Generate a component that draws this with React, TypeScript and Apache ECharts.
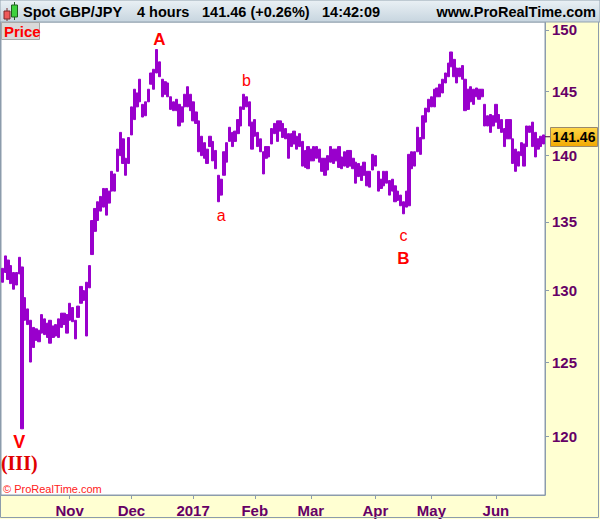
import React, { useEffect, useRef } from "react";
import * as echarts from "echarts";

// ---- data (daily ranges) ----
const startDate = "2016-09-28";
const endDate = "2017-06-26";

const dayHigh = [
  131.6, 132.5, 132.2, 131.8, 131.3, 131.3, 132.4, 131.7, 129.5, 128.7,
  127.9, 127.4, 127.3, 127.2, 128.3, 128.0, 127.7, 127.9, 127.5, 127.6,
  128.0, 128.4, 128.4, 128.3, 129.1, 128.8, 127.9, 128.9, 130.3, 130.0,
  130.6, 131.8, 135.1, 136.0, 136.5, 136.9, 137.5, 137.5, 137.3, 138.8,
  138.6, 140.5, 141.8, 141.3, 139.8, 141.4, 143.8, 145.2, 144.9, 146.0,
  144.0, 144.2, 145.2, 146.5, 146.8, 148.4, 147.4, 146.0, 145.8, 145.7,
  144.6, 144.2, 144.4, 144.0, 143.8, 144.8, 145.4, 144.8, 144.2, 143.4,
  142.7, 141.5, 141.0, 140.5, 141.5, 141.1, 140.4, 138.5, 138.2, 140.3,
  141.0, 142.2, 141.8, 141.9, 142.8, 143.8, 144.8, 144.6, 144.2, 142.6,
  142.8, 141.8, 141.3, 140.3, 140.7, 140.7, 142.1, 142.5, 142.7, 142.7,
  142.5, 142.1, 141.7, 141.7, 141.9, 141.5, 141.7, 141.1, 140.4, 140.7,
  140.5, 140.7, 140.7, 140.5, 139.8, 139.8, 140.0, 140.7, 140.5, 140.5,
  140.7, 139.9, 140.3, 140.4, 140.4, 139.8, 139.5, 139.4, 139.2, 139.5,
  138.8, 138.8, 140.1, 140.0, 138.8, 138.2, 138.8, 138.8, 138.1, 138.2,
  137.7, 137.3, 137.0, 136.5, 137.3, 140.1, 140.3, 140.3, 142.2, 141.4,
  143.1, 143.7, 144.4, 144.6, 145.2, 145.3, 145.6, 146.0, 146.5, 147.3,
  148.2, 147.6, 146.9, 146.9, 147.1, 146.0, 145.2, 145.4, 145.2, 145.3,
  145.2, 145.2, 144.0, 143.1, 143.2, 143.1, 144.0, 143.2, 142.8, 142.1,
  142.8, 142.8, 141.3, 140.5, 140.3, 141.0, 140.9, 142.3, 142.3, 142.6,
  141.8, 141.3, 141.5, 141.6,
];

const dayLow = [
  130.6, 131.3, 130.8, 130.5, 130.1, 130.4, 131.2, 120.5, 127.9, 127.6,
  125.0, 126.0, 126.5, 126.4, 127.0, 126.9, 126.7, 126.3, 126.7, 126.8,
  126.7, 127.4, 127.6, 127.0, 127.9, 127.8, 126.6, 128.1, 129.1, 129.3,
  126.8, 130.2, 132.6, 134.3, 135.1, 135.8, 136.1, 135.5, 136.4, 137.3,
  137.3, 138.8, 140.0, 139.4, 138.5, 139.4, 141.6, 142.8, 143.8, 144.2,
  143.0, 143.1, 144.2, 145.6, 145.2, 146.5, 146.2, 144.6, 144.8, 144.6,
  143.6, 143.5, 143.5, 142.3, 142.6, 143.8, 143.8, 143.5, 142.7, 142.5,
  140.3, 140.0, 139.8, 139.4, 140.7, 139.6, 139.0, 136.5, 137.0, 138.5,
  139.5, 141.1, 140.7, 141.1, 141.7, 142.3, 143.6, 143.8, 142.3, 140.5,
  141.5, 140.7, 140.3, 138.6, 139.8, 139.9, 140.9, 141.7, 141.1, 141.9,
  141.4, 141.3, 139.8, 140.7, 140.9, 140.5, 140.7, 139.2, 139.1, 139.0,
  139.6, 139.6, 139.8, 139.5, 138.8, 138.5, 138.9, 139.5, 139.4, 139.6,
  139.1, 139.0, 139.2, 139.1, 139.2, 139.0, 137.9, 138.4, 138.1, 138.5,
  137.7, 137.6, 138.9, 139.2, 137.3, 137.5, 137.7, 137.9, 137.0, 137.3,
  136.5, 136.6, 136.2, 135.6, 136.1, 136.2, 139.0, 139.2, 140.3, 140.1,
  141.3, 142.6, 143.4, 143.8, 143.8, 144.6, 144.6, 144.9, 145.7, 146.2,
  147.0, 146.2, 145.7, 146.2, 146.0, 143.5, 143.6, 144.2, 144.0, 144.6,
  144.4, 144.6, 142.3, 142.3, 141.8, 142.3, 142.6, 142.1, 141.8, 140.7,
  141.3, 141.3, 139.4, 138.8, 139.2, 140.0, 139.2, 140.7, 141.8, 140.7,
  139.9, 140.5, 140.7, 140.9,
];

const priceTicks = [120, 125, 130, 135, 140, 145, 150];
const monthNames = ["2017", "Feb", "Mar", "Apr", "May", "Jun", "Jul", "Aug", "Sep", "Oct", "Nov", "Dec"];
const yMinPrice = 116.2;
const yMaxPrice = 150.66;
const lastPrice = 141.46;

const waveLabels = [
  { text: "A", idx: 56, price: 149.2, bold: true, size: 17, serif: false },
  { text: "b", idx: 87, price: 145.9, bold: false, size: 16, serif: false },
  { text: "a", idx: 78, price: 135.5, bold: false, size: 16, serif: false },
  { text: "c", idx: 143, price: 134.0, bold: false, size: 16, serif: false },
  { text: "B", idx: 143, price: 132.3, bold: true, size: 17, serif: false },
  { text: "V", idx: 6, price: 119.6, bold: true, size: 18, serif: false },
  { text: "(III)", idx: 6, price: 118.25, bold: true, size: 20, serif: true },
];

function tradingDays(start: string, end: string): string[] {
  const out: string[] = [];
  const d = new Date(start + "T00:00:00Z");
  const e = new Date(end + "T00:00:00Z");
  while (d <= e) {
    const wd = d.getUTCDay();
    if (wd !== 0 && wd !== 6) out.push(d.toISOString().slice(0, 10));
    d.setUTCDate(d.getUTCDate() + 1);
  }
  return out;
}

const FONT = "'Liberation Sans', Arial, sans-serif";
const AXIS_COLOR = "#660066";
const FRAME = "#8C9CAC";
const PURPLE = "#9900CC";

export default function App() {
  const ref = useRef<HTMLDivElement>(null);
  useEffect(() => {
    document.body.style.margin = "0";
    if (!ref.current) return;
    const chart = echarts.init(ref.current, undefined, { renderer: "svg" });
    const cats = tradingDays(startDate, endDate);
    // month boundaries; the first (October) one sits at the edge and is not labelled
    const isMonthStart = (i: number) =>
      i > 10 && !!cats[i] && !!cats[i - 1] && cats[i].slice(5, 7) !== cats[i - 1].slice(5, 7);

    const candles = dayHigh.map((h, i) => {
      const lo = Math.log(dayLow[i]);
      const hi = Math.log(h);
      return [lo, hi, lo, hi];
    });

    const option: any = {
      animation: false,
      backgroundColor: "#FFFFD2",
      grid: {
        left: 1,
        right: 55,
        top: 22,
        bottom: 24,
        show: true,
        backgroundColor: "#FFFFFF",
        borderColor: FRAME,
        borderWidth: 1,
        containLabel: false,
        outerBoundsMode: "none",
      },
      xAxis: {
        type: "category",
        data: cats,
        boundaryGap: true,
        axisLine: { show: true, lineStyle: { color: FRAME } },
        axisTick: {
          show: true,
          alignWithLabel: true,
          length: 4,
          lineStyle: { color: FRAME },
          interval: (i: number) => isMonthStart(i),
        },
        axisLabel: {
          interval: (i: number) => isMonthStart(i),
          formatter: (v: string) => monthNames[parseInt(v.slice(5, 7), 10) - 1],
          color: AXIS_COLOR,
          fontWeight: "bold",
          fontSize: 15,
          fontFamily: FONT,
          margin: 8,
        },
        splitLine: { show: false },
      },
      yAxis: {
        type: "value",
        position: "right",
        min: Math.log(yMinPrice),
        max: Math.log(yMaxPrice),
        axisLine: { show: true, lineStyle: { color: FRAME } },
        axisTick: {
          show: true,
          length: 4,
          lineStyle: { color: FRAME },
          customValues: priceTicks.map((p) => Math.log(p)),
        },
        axisLabel: {
          customValues: priceTicks.map((p) => Math.log(p)),
          formatter: (v: number) => String(Math.round(Math.exp(v))),
          color: AXIS_COLOR,
          fontWeight: "bold",
          fontSize: 15,
          fontFamily: FONT,
          margin: 7,
        },
        splitLine: { show: false },
      },
      series: [
        {
          type: "candlestick",
          data: candles,
          barWidth: "100%",
          itemStyle: {
            color: PURPLE,
            color0: PURPLE,
            borderColor: PURPLE,
            borderColor0: PURPLE,
            borderWidth: 1,
          },
          markPoint: {
            symbol: "circle",
            symbolSize: 1,
            itemStyle: { color: "rgba(0,0,0,0)" },
            silent: true,
            data: waveLabels.map((w) => ({
              coord: [cats[w.idx], Math.log(w.price)],
              label: {
                show: true,
                position: "inside",
                formatter: w.text,
                color: w.serif ? "#E00000" : "#FF0000",
                fontSize: w.size,
                fontWeight: w.bold ? "bold" : "normal",
                fontFamily: w.serif ? "'Liberation Serif', 'Times New Roman', serif" : FONT,
              },
            })),
          },
        },
      ],
    };
    chart.setOption(option);

    const py = chart.convertToPixel({ yAxisIndex: 0 }, Math.log(lastPrice)) as number;

    const graphic: any[] = [
      // header bar
      {
        type: "rect",
        z: 100,
        shape: { x: 0, y: 0, width: 600, height: 22 },
        style: {
          fill: new echarts.graphic.LinearGradient(0, 0, 0, 1, [
            { offset: 0, color: "#EAF1F5" },
            { offset: 1, color: "#C7D5DF" },
          ]),
          stroke: "#93A3B0",
          lineWidth: 1,
        },
      },
      // icon: red candle
      { type: "line", z: 101, shape: { x1: 7, y1: 8, x2: 7, y2: 21 }, style: { stroke: "#7A2A2A", lineWidth: 1 } },
      { type: "rect", z: 102, shape: { x: 4, y: 11, width: 6, height: 8 }, style: { fill: "#EE5A5A", stroke: "#7A2A2A", lineWidth: 1 } },
      // icon: green candle
      { type: "line", z: 101, shape: { x1: 14.5, y1: 2, x2: 14.5, y2: 20 }, style: { stroke: "#206020", lineWidth: 1 } },
      { type: "rect", z: 102, shape: { x: 11.5, y: 5, width: 6, height: 12 }, style: { fill: "#3ED23E", stroke: "#206020", lineWidth: 1 } },
      // header texts
      ...[
        { x: 23, text: "Spot GBP/JPY" },
        { x: 137, text: "4 hours" },
        { x: 202, text: "141.46 (+0.26%)" },
        { x: 322, text: "14:42:09" },
      ].map((t) => ({
        type: "text",
        z: 103,
        x: t.x,
        y: 12,
        style: {
          text: t.text,
          fill: "#000000",
          font: `bold 14.5px ${FONT}`,
          verticalAlign: "middle",
        },
      })),
      {
        type: "text",
        z: 103,
        x: 596,
        y: 12,
        style: {
          text: "www.ProRealTime.com",
          fill: "#000000",
          font: `bold 14.5px ${FONT}`,
          align: "right",
          verticalAlign: "middle",
        },
      },
      // Price box
      {
        type: "rect",
        z: 100,
        shape: { x: 1.5, y: 22.5, width: 38, height: 17 },
        style: { fill: "#D9D9D9", stroke: "#A8A8A8", lineWidth: 1 },
      },
      {
        type: "text",
        z: 101,
        x: 4,
        y: 31.5,
        style: { text: "Price", fill: "#FF0000", font: `bold 15px ${FONT}`, verticalAlign: "middle" },
      },
      // copyright
      {
        type: "text",
        z: 100,
        x: 3,
        y: 489,
        style: { text: "© ProRealTime.com", fill: "#FF2020", font: `11px ${FONT}`, verticalAlign: "middle" },
      },
      // last price marker
      {
        type: "line",
        z: 100,
        shape: { x1: 545, y1: py, x2: 551, y2: py },
        style: { stroke: "#400040", lineWidth: 1 },
      },
      {
        type: "rect",
        z: 100,
        shape: { x: 550.5, y: Math.round(py) - 9.5, width: 47, height: 19 },
        style: {
          fill: new echarts.graphic.LinearGradient(0, 0, 0, 1, [
            { offset: 0, color: "#FFD84A" },
            { offset: 1, color: "#F2A900" },
          ]),
          stroke: "#9A8A6A",
          lineWidth: 1,
        },
      },
      {
        type: "text",
        z: 101,
        x: 574,
        y: py + 0.5,
        style: {
          text: lastPrice.toFixed(2),
          fill: "#000000",
          font: `bold 14px ${FONT}`,
          align: "center",
          verticalAlign: "middle",
        },
      },
      // outer frame
      {
        type: "rect",
        z: 99,
        shape: { x: 0.5, y: 0.5, width: 598, height: 517 },
        style: { fill: "none", stroke: FRAME, lineWidth: 1 },
      },
    ];
    chart.setOption({ graphic });

    return () => {
      chart.dispose();
    };
  }, []);

  return <div ref={ref} style={{ width: 600, height: 519 }} />;
}
